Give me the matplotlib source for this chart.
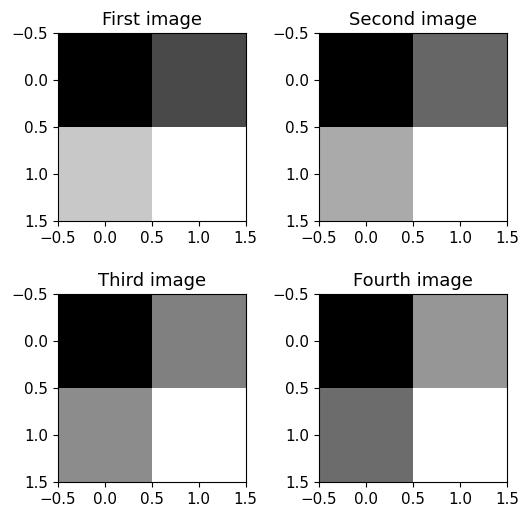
import matplotlib
matplotlib.use("Agg")
import matplotlib.pyplot as plt
import numpy as np

titles = ["First image", "Second image", "Third image", "Fourth image"]
first = [[0, 74], [200, 255]]
second = [[0, 102], [170, 255]]
third = [[0, 128], [140, 255]]
fourth = [[0, 150], [108, 255]]
images = [first, second, third, fourth]

plt.rcParams["font.size"] = 10.9
plt.rcParams["axes.titlesize"] = 13

fig, axes = plt.subplots(2, 2, figsize=(5.21, 5.11), dpi=100)
fig.subplots_adjust(left=0.111, right=0.973, top=0.935, bottom=0.057,
                    wspace=0.39, hspace=0.39)
for ax, img, t in zip(axes.flat, images, titles):
    ax.imshow(np.array(img), cmap="gray", vmin=0, vmax=255)
    ax.set_title(t)
    ax.set_xticks([-0.5, 0.0, 0.5, 1.0, 1.5])
    ax.set_yticks([-0.5, 0.0, 0.5, 1.0, 1.5])
plt.savefig("out.png")
